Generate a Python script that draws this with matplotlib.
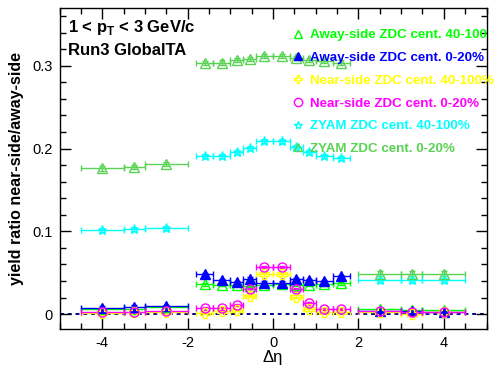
import matplotlib
matplotlib.use("Agg")
import matplotlib.pyplot as plt
from matplotlib.lines import Line2D
from matplotlib.ticker import MultipleLocator, FuncFormatter

plt.rcParams['font.family'] = ['Liberation Sans', 'DejaVu Sans']

# bin centres and half widths in delta eta
eta = [-4.0, -3.25, -2.5, -1.6, -1.2, -0.85, -0.55, -0.2, 0.2, 0.55, 0.85, 1.2, 1.6, 2.5, 3.25, 4.0]
eta_err = [0.5, 0.25, 0.5, 0.2, 0.2, 0.15, 0.15, 0.2, 0.2, 0.15, 0.15, 0.2, 0.2, 0.5, 0.25, 0.5]

away_40_100 = [0.0057, 0.006, 0.008, 0.036, 0.035, 0.035, 0.034, 0.035, 0.036, 0.035, 0.035, 0.036, 0.037, 0.0057, 0.0055, 0.005]
away_0_20 = [0.0077, 0.0089, 0.0097, 0.048, 0.041, 0.039, 0.043, 0.038, 0.038, 0.042, 0.041, 0.040, 0.046, 0.0036, 0.004, 0.003]
near_40_100 = [0.001, 0.002, 0.002, 0.0016, 0.004, 0.005, 0.022, 0.048, 0.048, 0.021, 0.0057, 0.003, 0.003, 0.002, 0.0, 0.002]
near_0_20 = [0.003, 0.003, 0.0036, 0.007, 0.007, 0.011, 0.030, 0.057, 0.057, 0.030, 0.013, 0.006, 0.006, 0.0036, 0.003, 0.003]
zyam_40_100 = [0.1016, 0.1024, 0.1036, 0.191, 0.191, 0.196, 0.201, 0.209, 0.209, 0.2015, 0.196, 0.191, 0.189, 0.041, 0.041, 0.041]
zyam_0_20 = [0.176, 0.178, 0.181, 0.303, 0.304, 0.307, 0.308, 0.312, 0.312, 0.309, 0.307, 0.306, 0.304, 0.049, 0.049, 0.049]

err_small = 0.0015
err_zyam = 0.0025

labels = ["Away-side ZDC cent. 40-100", "Away-side ZDC cent. 0-20%",
          "Near-side ZDC cent. 40-100%", "Near-side ZDC cent. 0-20%",
          "ZYAM ZDC cent. 40-100%", "ZYAM ZDC cent. 0-20%"]

series = [
    (away_40_100, '#00ff00', '^', 'none', err_small),
    (away_0_20, '#0000ff', '^', '#0000ff', err_small),
    (near_40_100, '#ffff00', 'P', 'none', err_small),
    (near_0_20, '#ff00ff', 'o', 'none', err_small),
    (zyam_40_100, '#00ffff', '*', 'none', err_zyam),
    (zyam_0_20, '#59d354', '^', 'none', err_zyam),
]

W, H = 496, 374
fig = plt.figure(figsize=(W / 100, H / 100), dpi=100)
x0, x1, y0, y1 = 59.5, 486.5, 7.5, 329.0
ax = fig.add_axes([x0 / W, 1 - y1 / H, (x1 - x0) / W, (y1 - y0) / H])

ax.axhline(0, color='#00008b', lw=1.4, ls=(0, (2, 2)), zorder=1)

handles = []
for (vals, col, mk, fc, ye), lab in zip(series, labels):
    ax.errorbar(eta, vals, xerr=eta_err, yerr=ye, fmt=mk, color=col, mfc=fc, mec=col,
                ms=6.5, mew=1.0, elinewidth=1.0, capsize=2, capthick=1.0, zorder=3)
    handles.append(Line2D([], [], ls='none', marker=mk, color=col, mfc=fc, mec=col, ms=6, mew=1.0))

ax.set_xlim(-5, 5)
ax.set_ylim(-0.018, 0.3705)
ax.xaxis.set_major_locator(MultipleLocator(2))
ax.xaxis.set_minor_locator(MultipleLocator(0.5))
ax.yaxis.set_major_locator(MultipleLocator(0.1))
ax.yaxis.set_minor_locator(MultipleLocator(0.02))
ax.tick_params(which='both', direction='in', top=True, right=True, width=1.0, labelsize=10.5, color='black')
ax.tick_params(which='major', length=8, pad=5)
ax.tick_params(which='minor', length=4.5)
ax.xaxis.set_major_formatter(FuncFormatter(lambda v, p: f"{v:g}"))
ax.yaxis.set_major_formatter(FuncFormatter(lambda v, p: f"{v:g}"))
for s in ax.spines.values():
    s.set_linewidth(1.0)

ax.set_xlabel('Δη', fontsize=12, labelpad=0)
ax.set_ylabel('yield ratio near-side/away-side', fontsize=11.5, fontweight='bold', labelpad=6)

ax.text(0.02, 0.968, r'1 < p$_{\mathregular{T}}$ < 3 GeV/c', transform=ax.transAxes, fontsize=12,
        fontweight='bold', va='top', ha='left')
ax.text(0.02, 0.89, 'Run3 GlobalTA', transform=ax.transAxes, fontsize=12,
        fontweight='bold', va='top', ha='left')

leg = ax.legend(handles, labels, loc='upper left', bbox_to_anchor=((291 - x0) / (x1 - x0), 1 - (29 - y0) / (y1 - y0)),
                frameon=False, borderpad=0, borderaxespad=0, handlelength=1.0, handletextpad=0.45,
                labelspacing=0.78, prop={'weight': 'bold', 'size': 9.6},
                labelcolor=[s[1] for s in series])
leg.set_zorder(5)

fig.savefig('out.png', dpi=100)
